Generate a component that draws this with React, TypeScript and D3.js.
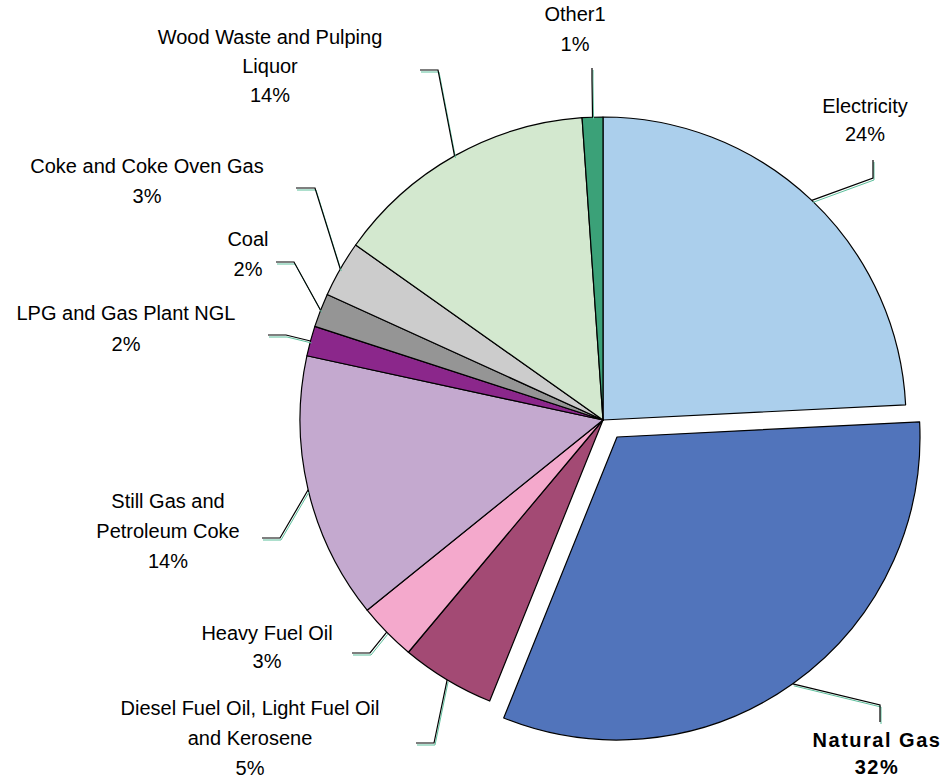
import React from 'react';
import * as d3 from 'd3';

// slice values in percent, clockwise from 12 o'clock
const categories = [
  'Electricity',
  'Natural Gas',
  'Diesel Fuel Oil, Light Fuel Oil and Kerosene',
  'Heavy Fuel Oil',
  'Still Gas and Petroleum Coke',
  'LPG and Gas Plant NGL',
  'Coal',
  'Coke and Coke Oven Gas',
  'Wood Waste and Pulping Liquor',
  'Other1',
];
const shares = [24.2, 31.9, 5.0, 3.1, 14.2, 1.6, 1.8, 3.0, 14.1, 1.1];
const percentLabels = ['24%', '32%', '5%', '3%', '14%', '2%', '2%', '3%', '14%', '1%'];
const labelLines = [
  ['Electricity'],
  ['Natural Gas'],
  ['Diesel Fuel Oil, Light Fuel Oil', 'and Kerosene'],
  ['Heavy Fuel Oil'],
  ['Still Gas and', 'Petroleum Coke'],
  ['LPG and Gas Plant NGL'],
  ['Coal'],
  ['Coke and Coke Oven Gas'],
  ['Wood Waste and Pulping', 'Liquor'],
  ['Other1'],
];

const colors = [
  '#abcfec', '#5174bb', '#a34a74', '#f4a9cc', '#c4a9cf',
  '#8b278b', '#959595', '#cccccc', '#d3e8cf', '#3ba178',
];

// label placement: text centre x, first baseline, line gap, leader elbow and end
const layout = [
  { x: 865, y: 113, gap: 28, elbow: [873, 178], end: [873, 160] },
  { x: 877, y: 747, gap: 27, elbow: [880, 705], end: [880, 722], bold: true },
  { x: 250, y: 715, gap: 30, elbow: [434, 743], end: [416, 743] },
  { x: 267, y: 640, gap: 28, elbow: [370, 653], end: [352, 653] },
  { x: 168, y: 508, gap: 30, elbow: [280, 538], end: [262, 538] },
  { x: 126, y: 320, gap: 31, elbow: [286, 335], end: [268, 335] },
  { x: 248, y: 246, gap: 30, elbow: [294, 262], end: [276, 262] },
  { x: 147, y: 173, gap: 30, elbow: [315, 188], end: [296, 188] },
  { x: 270, y: 44, gap: 29, elbow: [438, 70], end: [420, 70] },
  { x: 575, y: 21, gap: 30, elbow: [592, 80], end: [592, 68] },
];

const width = 941;
const height = 778;
const cx = 603;
const cy = 420;
const radius = 303;
const explode = [14, 17];

export default function App() {
  const pie = d3.pie<number>().sort(null).value(d => d);
  const arcs = pie(shares);
  const arc = d3.arc<d3.PieArcDatum<number>>().innerRadius(0).outerRadius(radius);

  const offsetOf = (i: number) => (i === 1 ? explode : [0, 0]);

  return (
    <svg
      width={width}
      height={height}
      style={{ position: 'absolute', left: 0, top: 0, background: '#fff' }}
      fontFamily="'Liberation Sans', Arial, sans-serif"
    >
      <g transform={`translate(${cx},${cy})`}>
        {arcs.map((a, i) => {
          const [ox, oy] = offsetOf(i);
          return (
            <path
              key={categories[i]}
              d={arc(a) || ''}
              transform={`translate(${ox},${oy})`}
              fill={colors[i]}
              stroke="#000"
              strokeWidth={1.2}
              strokeLinejoin="round"
            />
          );
        })}
      </g>

      {arcs.map((a, i) => {
        const mid = (a.startAngle + a.endAngle) / 2;
        const [ox, oy] = offsetOf(i);
        const sx = cx + ox + Math.sin(mid) * radius;
        const sy = cy + oy - Math.cos(mid) * radius;
        const L = layout[i];
        const pts = `${sx},${sy} ${L.elbow[0]},${L.elbow[1]} ${L.end[0]},${L.end[1]}`;
        const shadow = `${sx + 1},${sy + 2} ${L.elbow[0] + 1},${L.elbow[1] + 2} ${L.end[0] + 1},${L.end[1] + 2}`;
        return (
          <g key={'lead' + i}>
            <polyline points={shadow} fill="none" stroke="#5cbf9c" strokeWidth={1} />
            <polyline points={pts} fill="none" stroke="#000" strokeWidth={1.2} />
          </g>
        );
      })}

      {labelLines.map((lines, i) => {
        const L = layout[i];
        const all = [...lines, percentLabels[i]];
        return (
          <text
            key={'lab' + i}
            textAnchor="middle"
            fontSize={20}
            fill="#000"
            fontWeight={L.bold ? 'bold' : 'normal'}
            letterSpacing={L.bold ? 1.5 : 0}
          >
            {all.map((t, j) => (
              <tspan key={j} x={L.x} y={L.y + j * L.gap}>
                {t}
              </tspan>
            ))}
          </text>
        );
      })}
    </svg>
  );
}
